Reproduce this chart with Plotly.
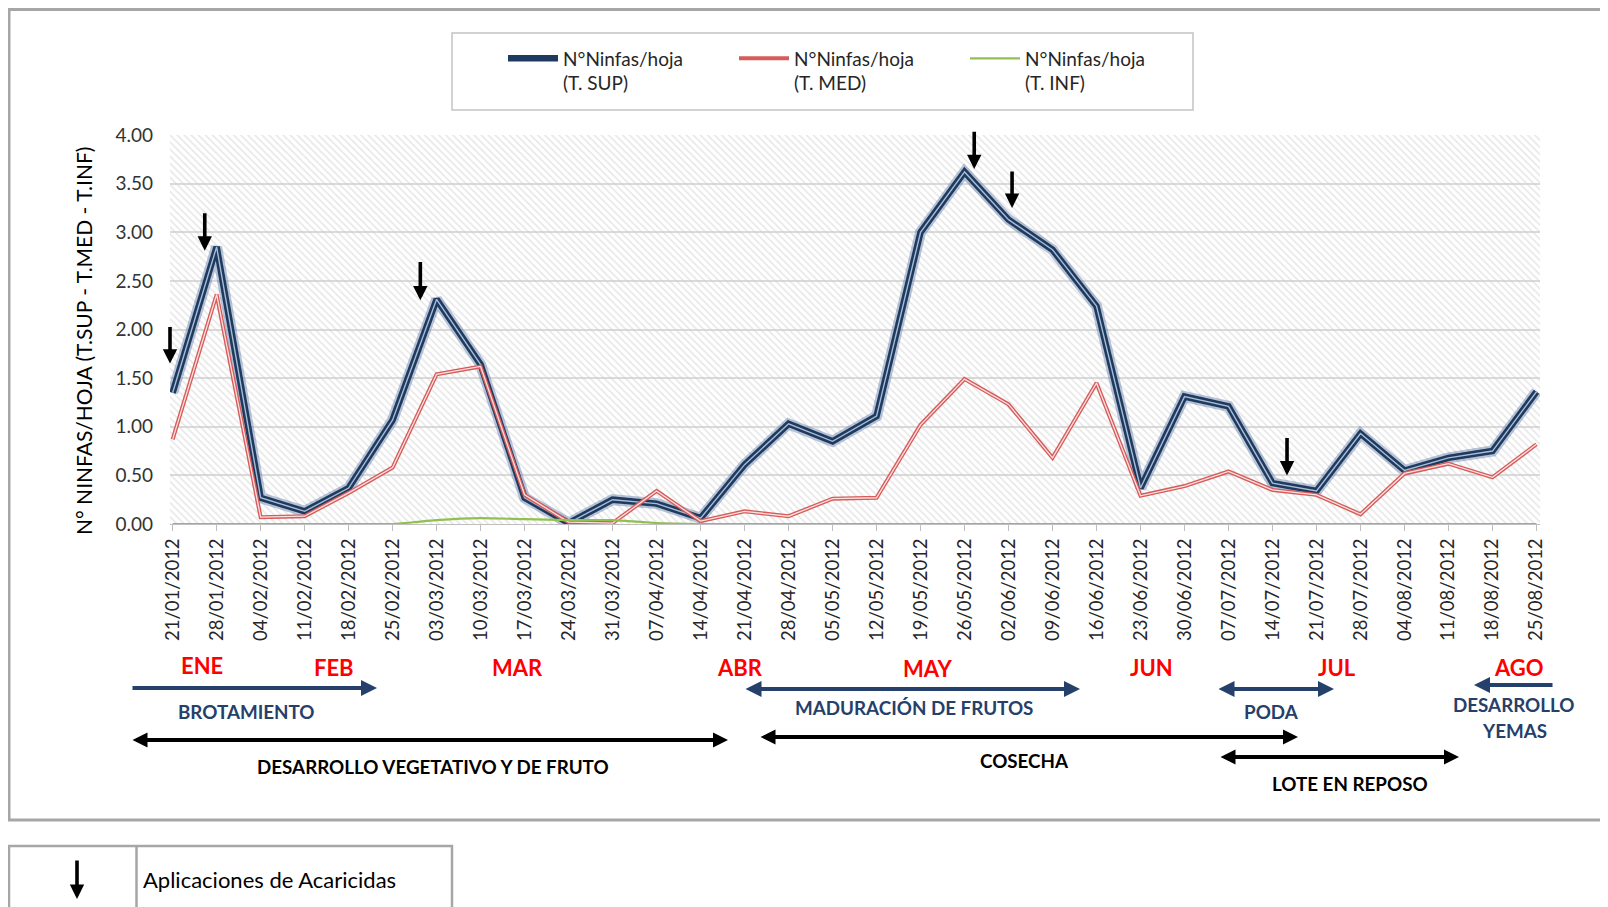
import plotly.graph_objects as go

# ---------------- data ----------------
dates = ["21/01/2012", "28/01/2012", "04/02/2012", "11/02/2012", "18/02/2012", "25/02/2012",
         "03/03/2012", "10/03/2012", "17/03/2012", "24/03/2012", "31/03/2012", "07/04/2012",
         "14/04/2012", "21/04/2012", "28/04/2012", "05/05/2012", "12/05/2012", "19/05/2012",
         "26/05/2012", "02/06/2012", "09/06/2012", "16/06/2012", "23/06/2012", "30/06/2012",
         "07/07/2012", "14/07/2012", "21/07/2012", "28/07/2012", "04/08/2012", "11/08/2012",
         "18/08/2012", "25/08/2012"]
ninfas_sup = [1.35, 2.85, 0.27, 0.13, 0.37, 1.07, 2.31, 1.64, 0.27, 0.01, 0.25, 0.21,
              0.06, 0.61, 1.03, 0.85, 1.11, 3.00, 3.62, 3.13, 2.82, 2.24, 0.37, 1.31,
              1.21, 0.42, 0.34, 0.93, 0.55, 0.68, 0.75, 1.36]
ninfas_med = [0.87, 2.36, 0.07, 0.08, 0.32, 0.58, 1.54, 1.62, 0.30, 0.02, 0.01, 0.34,
              0.03, 0.13, 0.08, 0.26, 0.27, 1.02, 1.49, 1.23, 0.68, 1.45, 0.29, 0.39,
              0.54, 0.35, 0.30, 0.10, 0.52, 0.62, 0.48, 0.82]
ninfas_inf = [0.00, 0.00, 0.00, 0.00, 0.00, 0.00, 0.04, 0.06, 0.05, 0.04, 0.04, 0.01,
              0.00, 0.00, 0.00, 0.00, 0.00, 0.00, 0.00, 0.00, 0.00, 0.00, 0.00, 0.00,
              0.00, 0.00, 0.00, 0.00, 0.00, 0.00, 0.00, 0.00]
series_names = ["N°Ninfas/hoja<br>(T. SUP)", "N°Ninfas/hoja<br>(T. MED)", "N°Ninfas/hoja<br>(T. INF)"]
y_ticks = [0.0, 0.5, 1.0, 1.5, 2.0, 2.5, 3.0, 3.5, 4.0]

# acaricide applications: position along date axis (index), arrow top and tip values
app_x = [-0.06, 0.73, 5.63, 18.22, 19.08, 25.33]
app_top = [2.04, 3.21, 2.71, 4.05, 3.64, 0.90]
app_tip = [1.65, 2.81, 2.30, 3.65, 3.25, 0.50]

months = ["ENE", "FEB", "MAR", "ABR", "MAY", "JUN", "JUL", "AGO"]
y_title = "N° NINFAS/HOJA (T.SUP - T.MED - T.INF)"
legend_note = "Aplicaciones de Acaricidas"

# ---------------- layout geometry ----------------
# page body adds an 8px margin; figure coordinates = screen - OFF
OFF = 8
W, H = 1608 - OFF, 907 - OFF
SL, SR, ST, SB = 170, 1540, 135, 524   # plot area in screen pixels


def px(v):
    return (v - SL) / (SR - SL)


def py(v):
    return (SB - v) / (SB - ST)


xi = list(range(len(dates)))
x_lo, x_hi = -0.06, len(dates) - 1 + 0.08
y_max = y_ticks[-1]

NAVY = "#1F3A5F"
NAVY_T = "#25406A"
RED = "#D65C5A"
GREEN = "#92C050"
FONT = "Lato"

fig = go.Figure()

# hatched plot background
fig.add_trace(go.Scatter(
    x=[x_lo, x_hi], y=[y_max, y_max], mode="lines", fill="tozeroy",
    line=dict(width=0, color="rgba(0,0,0,0)"),
    fillcolor="rgba(0,0,0,0)",
    fillpattern=dict(shape="\\", fgcolor="#cdcdcd", bgcolor="rgba(0,0,0,0)", size=5, solidity=0.3),
    showlegend=False, hoverinfo="skip"))

# T. SUP : glow + double navy line
fig.add_trace(go.Scatter(x=xi, y=ninfas_sup, mode="lines",
                         line=dict(color="rgba(95,125,170,0.45)", width=11),
                         showlegend=False, hoverinfo="skip"))
fig.add_trace(go.Scatter(x=xi, y=ninfas_sup, mode="lines", name=series_names[0],
                         line=dict(color=NAVY, width=6.5)))
fig.add_trace(go.Scatter(x=xi, y=ninfas_sup, mode="lines",
                         line=dict(color="#A9BCD3", width=1.4),
                         showlegend=False, hoverinfo="skip"))
# T. MED : double red line
fig.add_trace(go.Scatter(x=xi, y=ninfas_med, mode="lines", name=series_names[1],
                         line=dict(color=RED, width=4)))
fig.add_trace(go.Scatter(x=xi, y=ninfas_med, mode="lines",
                         line=dict(color="#FBE0E0", width=1.3),
                         showlegend=False, hoverinfo="skip"))
# T. INF
fig.add_trace(go.Scatter(x=xi, y=ninfas_inf, mode="lines", name=series_names[2],
                         line=dict(color=GREEN, width=2.2, shape="spline", smoothing=0.6)))

annotations = []
shapes = []

# y axis title (placed as rotated text)
annotations.append(dict(x=px(83), y=py(341), xref="paper", yref="paper", text=y_title, textangle=-90,
                        showarrow=False, xanchor="center", yanchor="middle",
                        font=dict(family=FONT, size=21, color="black")))

# acaricide arrows in the plot
for xa, yt, yp in zip(app_x, app_top, app_tip):
    annotations.append(dict(x=xa, y=yp, xref="x", yref="y", ax=xa, ay=yt, axref="x", ayref="y",
                            text="", showarrow=True, arrowhead=2, arrowsize=0.8, arrowwidth=3.6,
                            arrowcolor="black", standoff=0, startstandoff=0))

# month labels
month_pos = [(202, 665), (334, 667), (518, 667), (740, 667), (928, 668), (1151, 667), (1337, 667), (1519, 667)]
for m, (cx, cy) in zip(months, month_pos):
    annotations.append(dict(x=px(cx), y=py(cy), xref="paper", yref="paper", text="<b>%s</b>" % m,
                            showarrow=False, xanchor="center", yanchor="middle",
                            font=dict(family=FONT, size=22, color="#FF0000")))


def phase_arrow(x0, x1, yv, color, both):
    # head at x1, tail at x0
    annotations.append(dict(x=px(x1), y=py(yv), xref="paper", yref="paper",
                            ax=x0 - x1, ay=0, text="", showarrow=True, arrowhead=2,
                            arrowsize=0.75 if color == "black" else 0.8, arrowwidth=4,
                            arrowcolor=color, arrowside="end+start" if both else "end",
                            standoff=0, startstandoff=0))


def phase_text(txt, cx, cy, color):
    annotations.append(dict(x=px(cx), y=py(cy), xref="paper", yref="paper", text="<b>%s</b>" % txt,
                            showarrow=False, xanchor="center", yanchor="middle",
                            font=dict(family=FONT, size=18.8, color=color)))


phase_arrow(131, 377, 688, NAVY_T, False)
phase_text("BROTAMIENTO", 246, 711, NAVY_T)
phase_arrow(744, 1080, 689, NAVY_T, True)
phase_text("MADURACIÓN DE FRUTOS", 914, 707, NAVY_T)
phase_arrow(1217, 1334, 689, NAVY_T, True)
phase_text("PODA", 1271, 711, NAVY_T)
phase_arrow(1554, 1474, 685, NAVY_T, False)
phase_text("DESARROLLO", 1514, 704, NAVY_T)
phase_text("YEMAS", 1514, 730, NAVY_T)

phase_arrow(131, 728, 740, "black", True)
phase_text("DESARROLLO VEGETATIVO Y DE FRUTO", 433, 766, "black")
phase_arrow(759, 1298, 737, "black", True)
phase_text("COSECHA", 1024, 760, "black")
phase_arrow(1219, 1459, 757, "black", True)
phase_text("LOTE EN REPOSO", 1350, 783, "black")

# outer chart border
shapes.append(dict(type="rect", xref="paper", yref="paper", x0=px(9), x1=px(1640), y0=py(9.5), y1=py(820),
                   line=dict(color="#A6A6A6", width=3), fillcolor="rgba(0,0,0,0)", layer="below"))
# legend box
shapes.append(dict(type="rect", xref="paper", yref="paper", x0=px(452), x1=px(1193), y0=py(33), y1=py(110),
                   line=dict(color="#C4C4C4", width=1.5), fillcolor="rgba(0,0,0,0)", layer="below"))
# bottom key table
shapes.append(dict(type="rect", xref="paper", yref="paper", x0=px(9), x1=px(452), y0=py(846), y1=py(940),
                   line=dict(color="#A6A6A6", width=2.5), fillcolor="rgba(0,0,0,0)", layer="below"))
shapes.append(dict(type="line", xref="paper", yref="paper", x0=px(136.5), x1=px(136.5), y0=py(846), y1=py(940),
                   line=dict(color="#A6A6A6", width=2.5)))
annotations.append(dict(x=px(77), y=py(899), xref="paper", yref="paper", ax=0, ay=-40, text="",
                        showarrow=True, arrowhead=2, arrowsize=0.8, arrowwidth=3.6, arrowcolor="black",
                        standoff=0, startstandoff=0))
annotations.append(dict(x=px(140.5), y=py(879), xref="paper", yref="paper", text=legend_note,
                        showarrow=False, xanchor="left", yanchor="middle",
                        font=dict(family=FONT, size=22, color="black")))

fig.update_layout(
    width=W, height=H,
    margin=dict(l=SL - OFF, r=W - (SR - OFF), t=ST - OFF, b=H - (SB - OFF)),
    paper_bgcolor="white", plot_bgcolor="white",
    font=dict(family=FONT, color="#262626"),
    annotations=annotations, shapes=shapes,
    showlegend=True,
    legend=dict(orientation="h", x=px(503), y=py(71), xanchor="left", yanchor="middle",
                bgcolor="rgba(0,0,0,0)", borderwidth=0, valign="top", traceorder="normal",
                font=dict(family=FONT, size=19, color="#262626"),
                itemwidth=50, entrywidth=166, entrywidthmode="pixels"),
    xaxis=dict(range=[x_lo, x_hi], tickmode="array", tickvals=xi, ticktext=dates, tickangle=-90,
               showgrid=False, zeroline=False, showline=True, linecolor="#BFBFBF", linewidth=1,
               ticks="outside", ticklen=6, tickcolor="#BFBFBF",
               tickfont=dict(family=FONT, size=18.5, color="#262626")),
    yaxis=dict(range=[0, y_max], tickmode="array", tickvals=y_ticks, tickformat=".2f",
               showgrid=True, gridcolor="#DADADA", gridwidth=1.5, zeroline=False, showline=False,
               ticks="", ticklabelstandoff=16,
               tickfont=dict(family=FONT, size=19, color="#333333")),
)

fig.write_html("out.html")
